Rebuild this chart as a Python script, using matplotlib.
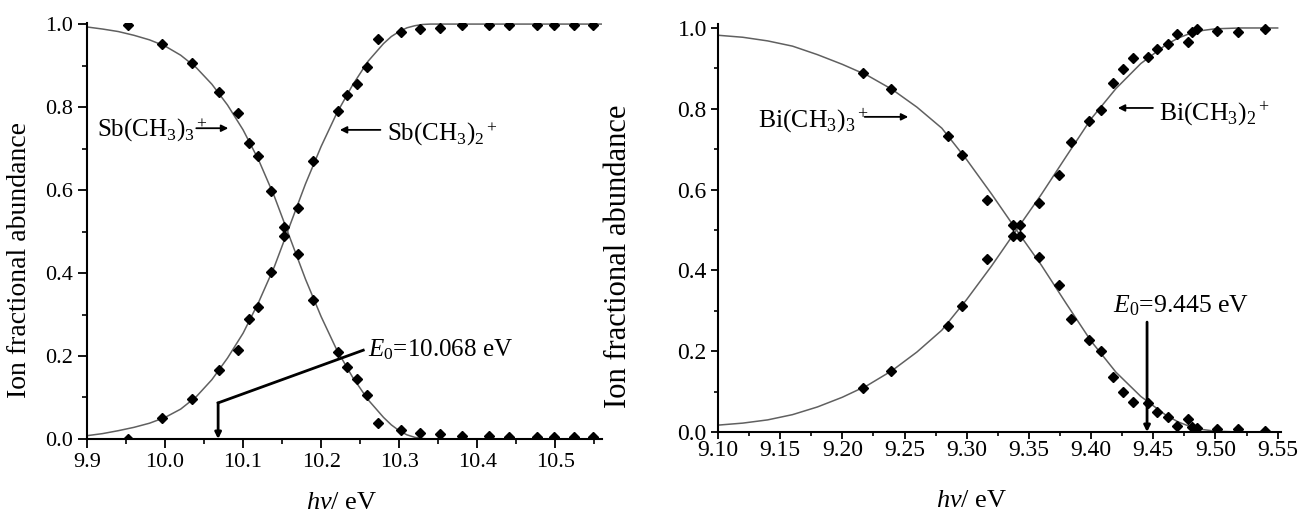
import numpy as np
import matplotlib
matplotlib.use('Agg')
import matplotlib.pyplot as plt
from matplotlib.ticker import MultipleLocator

plt.rcParams['font.family'] = ['Liberation Serif', 'DejaVu Serif']
plt.rcParams['mathtext.fontset'] = 'custom'
plt.rcParams['mathtext.rm'] = 'Liberation Serif'
plt.rcParams['mathtext.it'] = 'Liberation Serif:italic'

# LEFT PANEL: Sb(CH3)3 breakdown data
sb_x = [9.953, 9.996, 10.035, 10.069, 10.093, 10.107, 10.119, 10.136, 10.153, 10.170,
        10.190, 10.221, 10.233, 10.246, 10.259, 10.273, 10.303, 10.327, 10.353, 10.381,
        10.415, 10.441, 10.477, 10.499, 10.524, 10.549]
sb_parent = [0.997, 0.952, 0.906, 0.836, 0.786, 0.713, 0.682, 0.598, 0.511, 0.446,
             0.334, 0.210, 0.173, 0.145, 0.106, 0.039, 0.022, 0.015, 0.013, 0.006,
             0.006, 0.005, 0.005, 0.005, 0.005, 0.004]
sb_daughter = [0.000, 0.051, 0.096, 0.166, 0.214, 0.289, 0.318, 0.402, 0.489, 0.557,
               0.669, 0.790, 0.829, 0.855, 0.896, 0.963, 0.980, 0.987, 0.990, 0.997,
               0.997, 0.997, 0.997, 0.997, 0.997, 0.997]

# fitted curves
sb_fit_x = [9.90, 9.92, 9.94, 9.96, 9.98, 10.00, 10.02, 10.04, 10.06, 10.08, 10.10, 10.12,
            10.14, 10.16, 10.18, 10.20, 10.22, 10.24, 10.26, 10.28, 10.29, 10.30, 10.31,
            10.32, 10.33, 10.34, 10.56]
sb_fit_parent = [0.993, 0.988, 0.982, 0.973, 0.962, 0.947, 0.925, 0.895, 0.855, 0.805, 0.745,
                 0.672, 0.585, 0.485, 0.385, 0.295, 0.215, 0.150, 0.095, 0.052, 0.034, 0.020,
                 0.010, 0.004, 0.001, 0.000, 0.000]
sb_fit_daughter = [0.008, 0.013, 0.020, 0.028, 0.038, 0.052, 0.072, 0.102, 0.143, 0.195, 0.255,
                   0.330, 0.415, 0.515, 0.615, 0.705, 0.785, 0.852, 0.910, 0.953, 0.970, 0.982,
                   0.991, 0.996, 0.999, 1.000, 1.000]

# RIGHT PANEL: Bi(CH3)3 breakdown data
bi_x = [9.2166, 9.239, 9.285, 9.296, 9.316, 9.337, 9.343, 9.358, 9.374, 9.384, 9.398, 9.408,
        9.418, 9.426, 9.434, 9.446, 9.453, 9.462, 9.469, 9.478, 9.481, 9.485, 9.501, 9.518, 9.540]
bi_parent = [0.889, 0.849, 0.733, 0.686, 0.574, 0.512, 0.512, 0.433, 0.364, 0.280, 0.228, 0.201,
             0.136, 0.099, 0.074, 0.072, 0.050, 0.037, 0.015, 0.032, 0.012, 0.009, 0.007, 0.007, 0.003]
bi_daughter = [0.109, 0.151, 0.262, 0.312, 0.427, 0.485, 0.485, 0.567, 0.636, 0.718, 0.770, 0.797,
               0.864, 0.898, 0.925, 0.929, 0.948, 0.960, 0.985, 0.966, 0.990, 0.998, 0.993, 0.990, 0.998]

bi_fit_x = [9.10, 9.12, 9.14, 9.16, 9.18, 9.20, 9.22, 9.24, 9.26, 9.28, 9.30, 9.32, 9.34, 9.36,
            9.38, 9.40, 9.42, 9.44, 9.46, 9.47, 9.48, 9.49, 9.50, 9.51, 9.52, 9.55]
bi_fit_parent = [0.982, 0.977, 0.968, 0.955, 0.934, 0.910, 0.883, 0.848, 0.804, 0.752, 0.674,
                 0.589, 0.500, 0.413, 0.318, 0.225, 0.148, 0.088, 0.042, 0.025, 0.013, 0.006,
                 0.002, 0.001, 0.000, 0.000]
bi_fit_daughter = [0.017, 0.022, 0.030, 0.043, 0.062, 0.086, 0.115, 0.152, 0.198, 0.252, 0.328,
                   0.411, 0.500, 0.588, 0.682, 0.775, 0.850, 0.912, 0.958, 0.975, 0.987, 0.994,
                   0.998, 0.999, 1.000, 1.000]

sb_E0 = 10.068
bi_E0 = 9.445

fig = plt.figure(figsize=(13.07, 5.12), dpi=100)
ax1 = fig.add_axes([0.0666, 0.1426, 0.394, 0.812])
ax2 = fig.add_axes([0.5493, 0.15625, 0.4311, 0.797])

curve_kw = dict(color='#606060', lw=1.1, zorder=2)
pt_kw = dict(ls='none', marker='D', ms=5.6, color='k', zorder=3)
arr_kw = dict(arrowstyle='-|>', color='k', lw=1.3, mutation_scale=10, shrinkA=0, shrinkB=0)


def style_axes(ax, xmaj, xmin, tick_fs, pad_x, pad_y, tl):
    for s in ['top', 'right']:
        ax.spines[s].set_visible(False)
    for s in ['left', 'bottom']:
        ax.spines[s].set_linewidth(1.5)
    ax.xaxis.set_major_locator(MultipleLocator(xmaj))
    ax.xaxis.set_minor_locator(MultipleLocator(xmin))
    ax.yaxis.set_major_locator(MultipleLocator(0.2))
    ax.yaxis.set_minor_locator(MultipleLocator(0.1))
    ax.tick_params(which='major', direction='out', length=tl, width=1.3, labelsize=tick_fs)
    ax.tick_params(which='minor', direction='out', length=tl * 0.6, width=1.2)
    ax.tick_params(axis='x', which='major', pad=pad_x)
    ax.tick_params(axis='y', which='major', pad=pad_y)


# ---- left panel ----
ax1.plot(sb_fit_x, sb_fit_parent, **curve_kw)
ax1.plot(sb_fit_x, sb_fit_daughter, **curve_kw)
ax1.plot(sb_x, sb_parent, **pt_kw)
ax1.plot(sb_x, sb_daughter, **pt_kw)
ax1.set_xlim(9.9, 10.56)
ax1.set_ylim(0, 1.002)
style_axes(ax1, 0.1, 0.05, 16, 3.5, 3.5, 6.5)
ax1.xaxis.set_major_formatter(plt.FormatStrFormatter('%.1f'))
ax1.yaxis.set_major_formatter(plt.FormatStrFormatter('%.1f'))
ax1.set_xlabel(r'$h\nu$/ eV', fontsize=19)
ax1.xaxis.set_label_coords(0.495, -0.128)
ax1.set_ylabel('Ion fractional abundance', fontsize=20)
ax1.yaxis.set_label_coords(-0.107, 0.43)

ax1.text(9.913, 0.728, r'Sb(CH$_3$)$_3$$^+$', fontsize=18)
ax1.annotate('', xy=(10.081, 0.749), xytext=(10.040, 0.749), arrowprops=arr_kw)
ax1.text(10.285, 0.720, r'Sb(CH$_3$)$_2$$^+$', fontsize=18)
ax1.annotate('', xy=(10.224, 0.745), xytext=(10.276, 0.745), arrowprops=arr_kw)
ax1.plot([10.254, sb_E0], [0.214, 0.087], color='k', lw=2)
ax1.annotate('', xy=(sb_E0, 0.0), xytext=(sb_E0, 0.087),
             arrowprops=dict(arr_kw, lw=2, mutation_scale=9))
ax1.text(10.260, 0.198, r'$E_0$=%.3f eV' % sb_E0, fontsize=18)

# ---- right panel ----
ax2.plot(bi_fit_x, bi_fit_parent, **curve_kw)
ax2.plot(bi_fit_x, bi_fit_daughter, **curve_kw)
ax2.plot(bi_x, bi_parent, **pt_kw)
ax2.plot(bi_x, bi_daughter, **pt_kw)
ax2.set_xlim(9.10, 9.553)
ax2.set_ylim(0, 1.01)
style_axes(ax2, 0.05, 0.025, 17, 0.5, 3, 5)
ax2.xaxis.set_major_formatter(plt.FormatStrFormatter('%.2f'))
ax2.yaxis.set_major_formatter(plt.FormatStrFormatter('%.1f'))
ax2.set_xlabel(r'$h\nu$/ eV', fontsize=19)
ax2.xaxis.set_label_coords(0.451, -0.142)
ax2.set_ylabel('Ion fractional abundance', fontsize=22)
ax2.yaxis.set_label_coords(-0.151, 0.43)

ax2.text(9.132, 0.755, r'Bi(CH$_3$)$_3$$^+$', fontsize=18.5)
ax2.annotate('', xy=(9.253, 0.780), xytext=(9.218, 0.780), arrowprops=arr_kw)
ax2.text(9.4545, 0.772, r'Bi(CH$_3$)$_2$$^+$', fontsize=18.5)
ax2.annotate('', xy=(9.4215, 0.802), xytext=(9.4497, 0.802), arrowprops=arr_kw)
ax2.annotate('', xy=(bi_E0, 0.0), xytext=(bi_E0, 0.272),
             arrowprops=dict(arr_kw, lw=2, mutation_scale=9))
ax2.text(9.4175, 0.295, r'$E_0$=%.3f eV' % bi_E0, fontsize=18.5)

fig.savefig('out.png', dpi=100, facecolor='white')
